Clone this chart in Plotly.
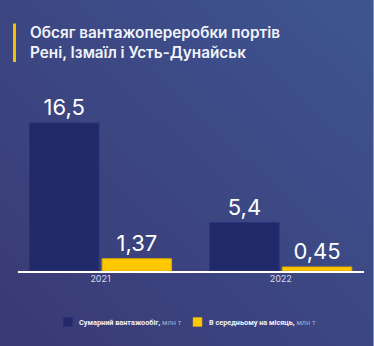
import plotly.graph_objects as go

# --- data ---
years = ["2021", "2022"]
total_name = "Сумарний вантажообіг"
monthly_name = "В середньому на місяць"
unit = "млн т"
total_values = [16.5, 5.4]
monthly_values = [1.37, 0.45]
title_lines = ["Обсяг вантажопереробки портів", "Рені, Ізмаїл і Усть-Дунайськ"]

W, H = 374, 346
NAVY = "#22296b"
YELLOW = "#ffc800"
FONT = "Inter"
SMALL_FONT = "Roboto"


def fmt(v):
    return f"{v:g}".replace(".", ",")


def px_x(p):
    return p / W


def px_y(p):
    return 1 - p / H


fig = go.Figure()
fig.add_trace(go.Bar(
    x=years, y=total_values, name=total_name,
    marker=dict(color=NAVY, line=dict(color="#2a3579", width=1)),
    text=[fmt(v) for v in total_values], textposition="outside",
    textfont=dict(family=FONT, size=22, color="#ffffff"),
    cliponaxis=False,
))
fig.add_trace(go.Bar(
    x=years, y=monthly_values, name=monthly_name,
    marker=dict(color=YELLOW, line=dict(color="#d9a800", width=1)),
    text=[fmt(v) for v in monthly_values], textposition="outside",
    textfont=dict(family=FONT, size=22, color="#ffffff"),
    cliponaxis=False,
))

# background gradient
svg = (
    "data:image/svg+xml;utf8,"
    "<svg xmlns='http://www.w3.org/2000/svg' width='374' height='346'>"
    "<defs><linearGradient id='g' x1='0' y1='1' x2='1' y2='0'>"
    "<stop offset='0' stop-color='%233a3973'/>"
    "<stop offset='1' stop-color='%233e5592'/>"
    "</linearGradient></defs>"
    "<rect width='374' height='346' fill='url(%23g)'/></svg>"
)

shapes = [
    # title accent bar
    dict(type="rect", xref="paper", yref="paper",
         x0=px_x(13), x1=px_x(16), y0=px_y(62), y1=px_y(23.5),
         fillcolor="#f2c200", line=dict(width=0), layer="above"),
    # right edge highlight
    dict(type="line", xref="paper", yref="paper",
         x0=px_x(373.5), x1=px_x(373.5), y0=0, y1=1,
         line=dict(color="#8494c6", width=1)),
    # legend swatches
    dict(type="rect", xref="paper", yref="paper",
         x0=px_x(63.3), x1=px_x(72.5), y0=px_y(326.5), y1=px_y(317.5),
         fillcolor=NAVY, line=dict(color="#2a3579", width=0.5)),
    dict(type="rect", xref="paper", yref="paper",
         x0=px_x(193), x1=px_x(202), y0=px_y(326.5), y1=px_y(317.5),
         fillcolor=YELLOW, line=dict(color="#d9a800", width=0.5)),
]

annotations = [
    dict(text="<br>".join(title_lines), xref="paper", yref="paper",
         x=px_x(27.5), y=px_y(21), xanchor="left", yanchor="top", align="left",
         showarrow=False,
         font=dict(family=FONT, size=15.3, color="#f2f4fb", weight=600)),
    dict(text=f"<b>{total_name},</b> <span style='color:#a3a8cf'>{unit}</span>",
         xref="paper", yref="paper", x=px_x(77), y=px_y(322),
         xanchor="left", yanchor="middle", showarrow=False,
         font=dict(family=SMALL_FONT, size=7.3, color="#eef0fa")),
    dict(text=f"<b>{monthly_name},</b> <span style='color:#a3a8cf'>{unit}</span>",
         xref="paper", yref="paper", x=px_x(207), y=px_y(322),
         xanchor="left", yanchor="middle", showarrow=False,
         font=dict(family=SMALL_FONT, size=7.3, color="#eef0fa")),
]

fig.update_layout(
    width=W, height=H,
    margin=dict(l=0, r=0, t=0, b=0),
    paper_bgcolor="#3c4580", plot_bgcolor="rgba(0,0,0,0)",
    barmode="group", bargap=0.194, bargroupgap=0.043,
    showlegend=False,
    images=[dict(source=svg, xref="paper", yref="paper", x=0, y=1,
                 sizex=1, sizey=1, sizing="stretch", layer="below",
                 xanchor="left", yanchor="top")],
    shapes=shapes,
    annotations=annotations,
    xaxis=dict(
        type="category", categoryorder="array", categoryarray=years,
        domain=[18 / W, 364 / W], range=[-0.458, 1.462],
        showline=True, linecolor="#ffffff", linewidth=1.5,
        showgrid=False, zeroline=False, ticks="",
        ticklabelstandoff=-2,
        tickfont=dict(family=FONT, size=9, color="#d6daee"),
        fixedrange=True,
    ),
    yaxis=dict(
        domain=[75 / H, 246 / H], range=[0, 171 / 8.97],
        visible=False, fixedrange=True,
    ),
)

fig.write_html("out.html")
